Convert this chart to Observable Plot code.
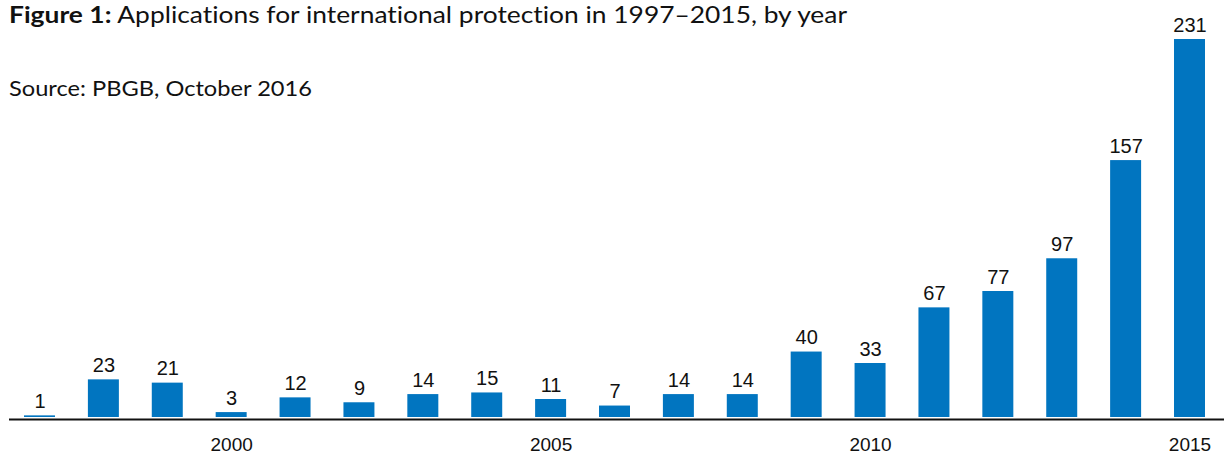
<!DOCTYPE html>
<html>
<head>
<meta charset="utf-8">
<script src="https://cdn.jsdelivr.net/npm/d3@7"></script>
<script src="https://cdn.jsdelivr.net/npm/@observablehq/plot@0.6"></script>
<style>
  body { margin: 0; background: #fff; }
  #wrap { position: relative; width: 1224px; height: 452px; overflow: hidden; }
  .head { position: absolute; left: 9px; font-family: Lato, sans-serif; color: #111; white-space: nowrap; line-height: 26px; transform-origin: 0 0; font-variant-ligatures: none; }
  #title { top: 1.4px; font-size: 23px; }
  #source { top: 74.5px; font-size: 22px; }
  #chart { position: absolute; left: 0; top: 0; }
</style>
</head>
<body>
<div id="wrap">
  <div id="chart"></div>
  <div id="title" class="head"><b>Figure 1:</b> Applications for international protection in 1997–2015, by year</div>
  <div id="source" class="head">Source: PBGB, October 2016</div>
</div>
<script>
const years = [1997, 1998, 1999, 2000, 2001, 2002, 2003, 2004, 2005, 2006, 2007, 2008, 2009, 2010, 2011, 2012, 2013, 2014, 2015];
const applications = [1, 23, 21, 3, 12, 9, 14, 15, 11, 7, 14, 14, 40, 33, 67, 77, 97, 157, 231];
const tickYears = [2000, 2005, 2010, 2015];

const data = years.map((y, i) => ({year: y, value: applications[i]}));

const chart = Plot.plot({
  width: 1224,
  height: 452,
  marginLeft: 9,
  marginRight: 0,
  marginTop: 39,
  marginBottom: 35,
  style: {fontFamily: "'Liberation Sans', Arial, sans-serif", fontSize: "20px", color: "#111", background: "transparent"},
  x: {type: "band", domain: years, range: [24, 1205], paddingInner: 0.515, paddingOuter: 0, round: false, label: null},
  y: {domain: [0, 231], range: [417, 39], axis: null},
  marks: [
    Plot.barY(data, {x: "year", y: "value", fill: "#0175c0"}),
    Plot.text(data, {x: "year", y: "value", text: d => String(d.value), dy: -8, lineAnchor: "bottom", fontSize: 20, fill: "#111", letterSpacing: "0.6px"}),
    Plot.ruleY([0], {dy: 2, strokeWidth: 2, stroke: "#111"}),
    Plot.axisX(tickYears, {tickSize: 0, tickPadding: 19.5, fontSize: 19, tickFormat: d => String(d), fill: "#111", letterSpacing: "1.2px", label: null})
  ]
});
document.getElementById("chart").appendChild(chart);

// stretch the heading texts horizontally to the reference widths
function fit(id, w) {
  const el = document.getElementById(id);
  const natural = el.getBoundingClientRect().width;
  el.style.transform = `scaleX(${w / natural})`;
}
fit("title", 838);
fit("source", 303);
</script>
</body>
</html>
